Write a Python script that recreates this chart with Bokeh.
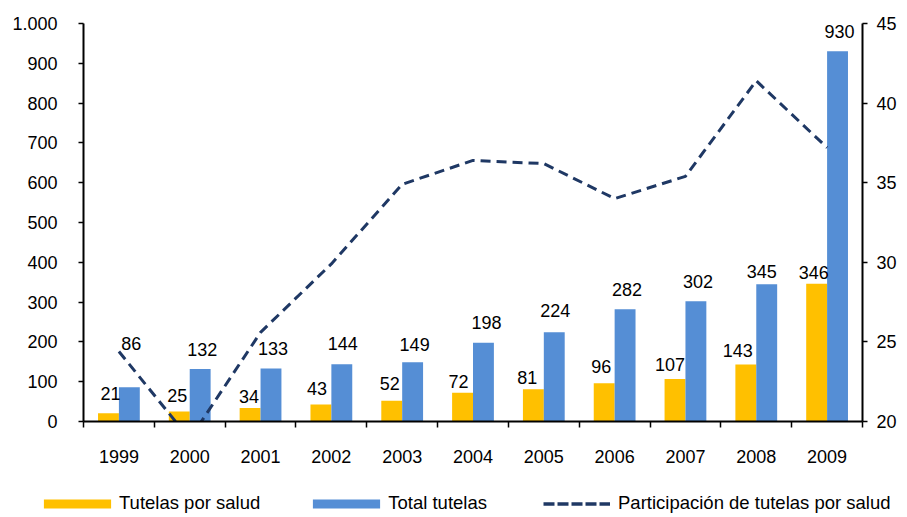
from bokeh.plotting import figure
from bokeh.models import (Range1d, LinearAxis, FixedTicker, ColumnDataSource,
                          LabelSet, Legend, LegendItem)
from bokeh.core.properties import value
from bokeh.embed import file_html
from bokeh.resources import INLINE

years = ["1999", "2000", "2001", "2002", "2003", "2004", "2005", "2006", "2007", "2008", "2009"]
tutelas_salud = [21, 25, 34, 43, 52, 72, 81, 96, 107, 143, 346]
total_tutelas = [86, 132, 133, 144, 149, 198, 224, 282, 302, 345, 930]
participacion = [24.4, 18.9, 25.6, 29.9, 34.9, 36.4, 36.2, 34.0, 35.4, 41.4, 37.2]
left_ticks = [0, 100, 200, 300, 400, 500, 600, 700, 800, 900, 1000]
left_tick_labels = ["0", "100", "200", "300", "400", "500", "600", "700", "800", "900", "1.000"]
right_ticks = [20, 25, 30, 35, 40, 45]

# styling: per-label nudges (screen px) as placed in the original
salud_label_dx = [2, -2, -1, -4, -2, -4, -6, -3, -5, -8, -3]
salud_label_dy = [13, 10, 5, 9, 11, 5, 5, 10, 8, 8, 5]
total_label_dx = [2, 2, 2, 1, 2, 3, 1, 2, 2, -5, 2]
total_label_dy = [37, 13, 14, 14, 11, 14, 15, 13, 13, 6, 13]

YELLOW = "#FFC000"
BLUE = "#558ED5"
NAVY = "#1F3864"
FONT = "Liberation Sans"
FS = "18px"

n = len(years)
centers = [i + 0.5 for i in range(n)]
bw = 0.295
src = ColumnDataSource(dict(
    xc=centers,
    xy=[c - 0.1475 for c in centers],
    xb=[c + 0.1475 for c in centers],
    salud=tutelas_salud,
    total=total_tutelas,
    salud_txt=[str(v) for v in tutelas_salud],
    total_txt=[str(v) for v in total_tutelas],
    part=participacion,
    sdx=salud_label_dx, sdy=salud_label_dy,
    tdx=total_label_dx, tdy=total_label_dy,
))

p = figure(width=899, height=475, x_range=Range1d(0, n), y_range=Range1d(0, 1000),
           output_backend="svg", toolbar_location=None,
           min_border_left=83, min_border_right=37, min_border_top=23, min_border_bottom=54)
p.extra_y_ranges = {"right": Range1d(20, 45)}
p.outline_line_color = None
p.xgrid.visible = False
p.ygrid.visible = False

p.vbar(x="xy", top="salud", bottom=0, width=bw, source=src, fill_color=YELLOW, line_color=None)
p.vbar(x="xb", top="total", bottom=0, width=bw, source=src, fill_color=BLUE, line_color=None)
p.line(x="xc", y="part", source=src, y_range_name="right", line_color=NAVY,
       line_width=3, line_dash="10 6")

p.add_layout(LabelSet(x="xy", y="salud", text="salud_txt", source=src, text_align="center",
                      text_baseline="alphabetic", x_offset="sdx", y_offset="sdy",
                      text_font=value(FONT), text_font_size=value(FS), text_color="black"))
p.add_layout(LabelSet(x="xb", y="total", text="total_txt", source=src, text_align="center",
                      text_baseline="alphabetic", x_offset="tdx", y_offset="tdy",
                      text_font=value(FONT), text_font_size=value(FS), text_color="black"))

# x axis: labels at centers, ticks at category boundaries
xa = p.xaxis[0]
xa.ticker = FixedTicker(ticks=centers, minor_ticks=list(range(n + 1)))
xa.major_label_overrides = {c: y for c, y in zip(centers, years)}
xa.major_tick_out = 0
xa.major_tick_in = 0
xa.minor_tick_out = 6
xa.minor_tick_in = 0
xa.minor_tick_line_color = "black"
xa.minor_tick_line_width = 1.5
xa.axis_line_color = "black"
xa.axis_line_width = 2
xa.major_label_standoff = 22
xa.major_label_text_font = FONT
xa.major_label_text_font_size = FS
xa.major_label_text_color = "black"

ya = p.yaxis[0]
ya.ticker = FixedTicker(ticks=left_ticks, minor_ticks=[])
ya.major_label_overrides = {t: l for t, l in zip(left_ticks, left_tick_labels)}
ya.major_tick_out = 5
ya.major_tick_in = 0
ya.major_tick_line_width = 1.5
ya.axis_line_color = "black"
ya.axis_line_width = 2
ya.major_label_standoff = 21
ya.major_label_text_font = FONT
ya.major_label_text_font_size = FS
ya.major_label_text_color = "black"

ra = LinearAxis(y_range_name="right", ticker=FixedTicker(ticks=right_ticks, minor_ticks=[]))
ra.major_tick_out = 5
ra.major_tick_in = 0
ra.major_tick_line_width = 1.5
ra.axis_line_color = "black"
ra.axis_line_width = 2
ra.major_label_standoff = 9
ra.major_label_text_font = FONT
ra.major_label_text_font_size = FS
ra.major_label_text_color = "black"
p.add_layout(ra, "right")

# legend strip below the chart (its own root, so its frame spans the full width);
# the proxy renderers share the data but their ranges put every mark far off-canvas
pl = figure(width=899, height=40, x_range=Range1d(-100, -89), y_range=Range1d(5000, 6000),
            output_backend="svg", toolbar_location=None, min_border=0,
            x_axis_location=None, y_axis_location=None)
pl.outline_line_color = None
pl.grid.visible = False
pl.background_fill_color = None
pl.border_fill_color = None
ly = pl.vbar(x="xy", top="salud", bottom=0, width=bw, source=src, fill_color=YELLOW, line_color=None)
lb = pl.vbar(x="xb", top="total", bottom=0, width=bw, source=src, fill_color=BLUE, line_color=None)
ll = pl.line(x="xc", y="part", source=src, line_color=NAVY, line_width=3.5, line_dash="11 3")

LFS = "18.5px"
leg_bars = Legend(items=[LegendItem(label="Tutelas por salud", renderers=[ly]),
                         LegendItem(label="Total tutelas", renderers=[lb])],
                  orientation="horizontal", location=(35, 1),
                  glyph_width=84, glyph_height=11, label_standoff=0, spacing=44,
                  padding=0, margin=0, border_line_color=None, background_fill_alpha=0,
                  label_text_font=FONT, label_text_font_size=LFS, label_text_color="black",
                  label_height=20)
leg_line = Legend(items=[LegendItem(label="Participación de tutelas por salud", renderers=[ll])],
                  orientation="horizontal", location=(543, 1),
                  glyph_width=67, glyph_height=11, label_standoff=8, spacing=0,
                  padding=0, margin=0, border_line_color=None, background_fill_alpha=0,
                  label_text_font=FONT, label_text_font_size=LFS, label_text_color="black",
                  label_height=20)
pl.add_layout(leg_bars, "center")
pl.add_layout(leg_line, "center")

open("out.html", "w").write(file_html([p, pl], INLINE))
